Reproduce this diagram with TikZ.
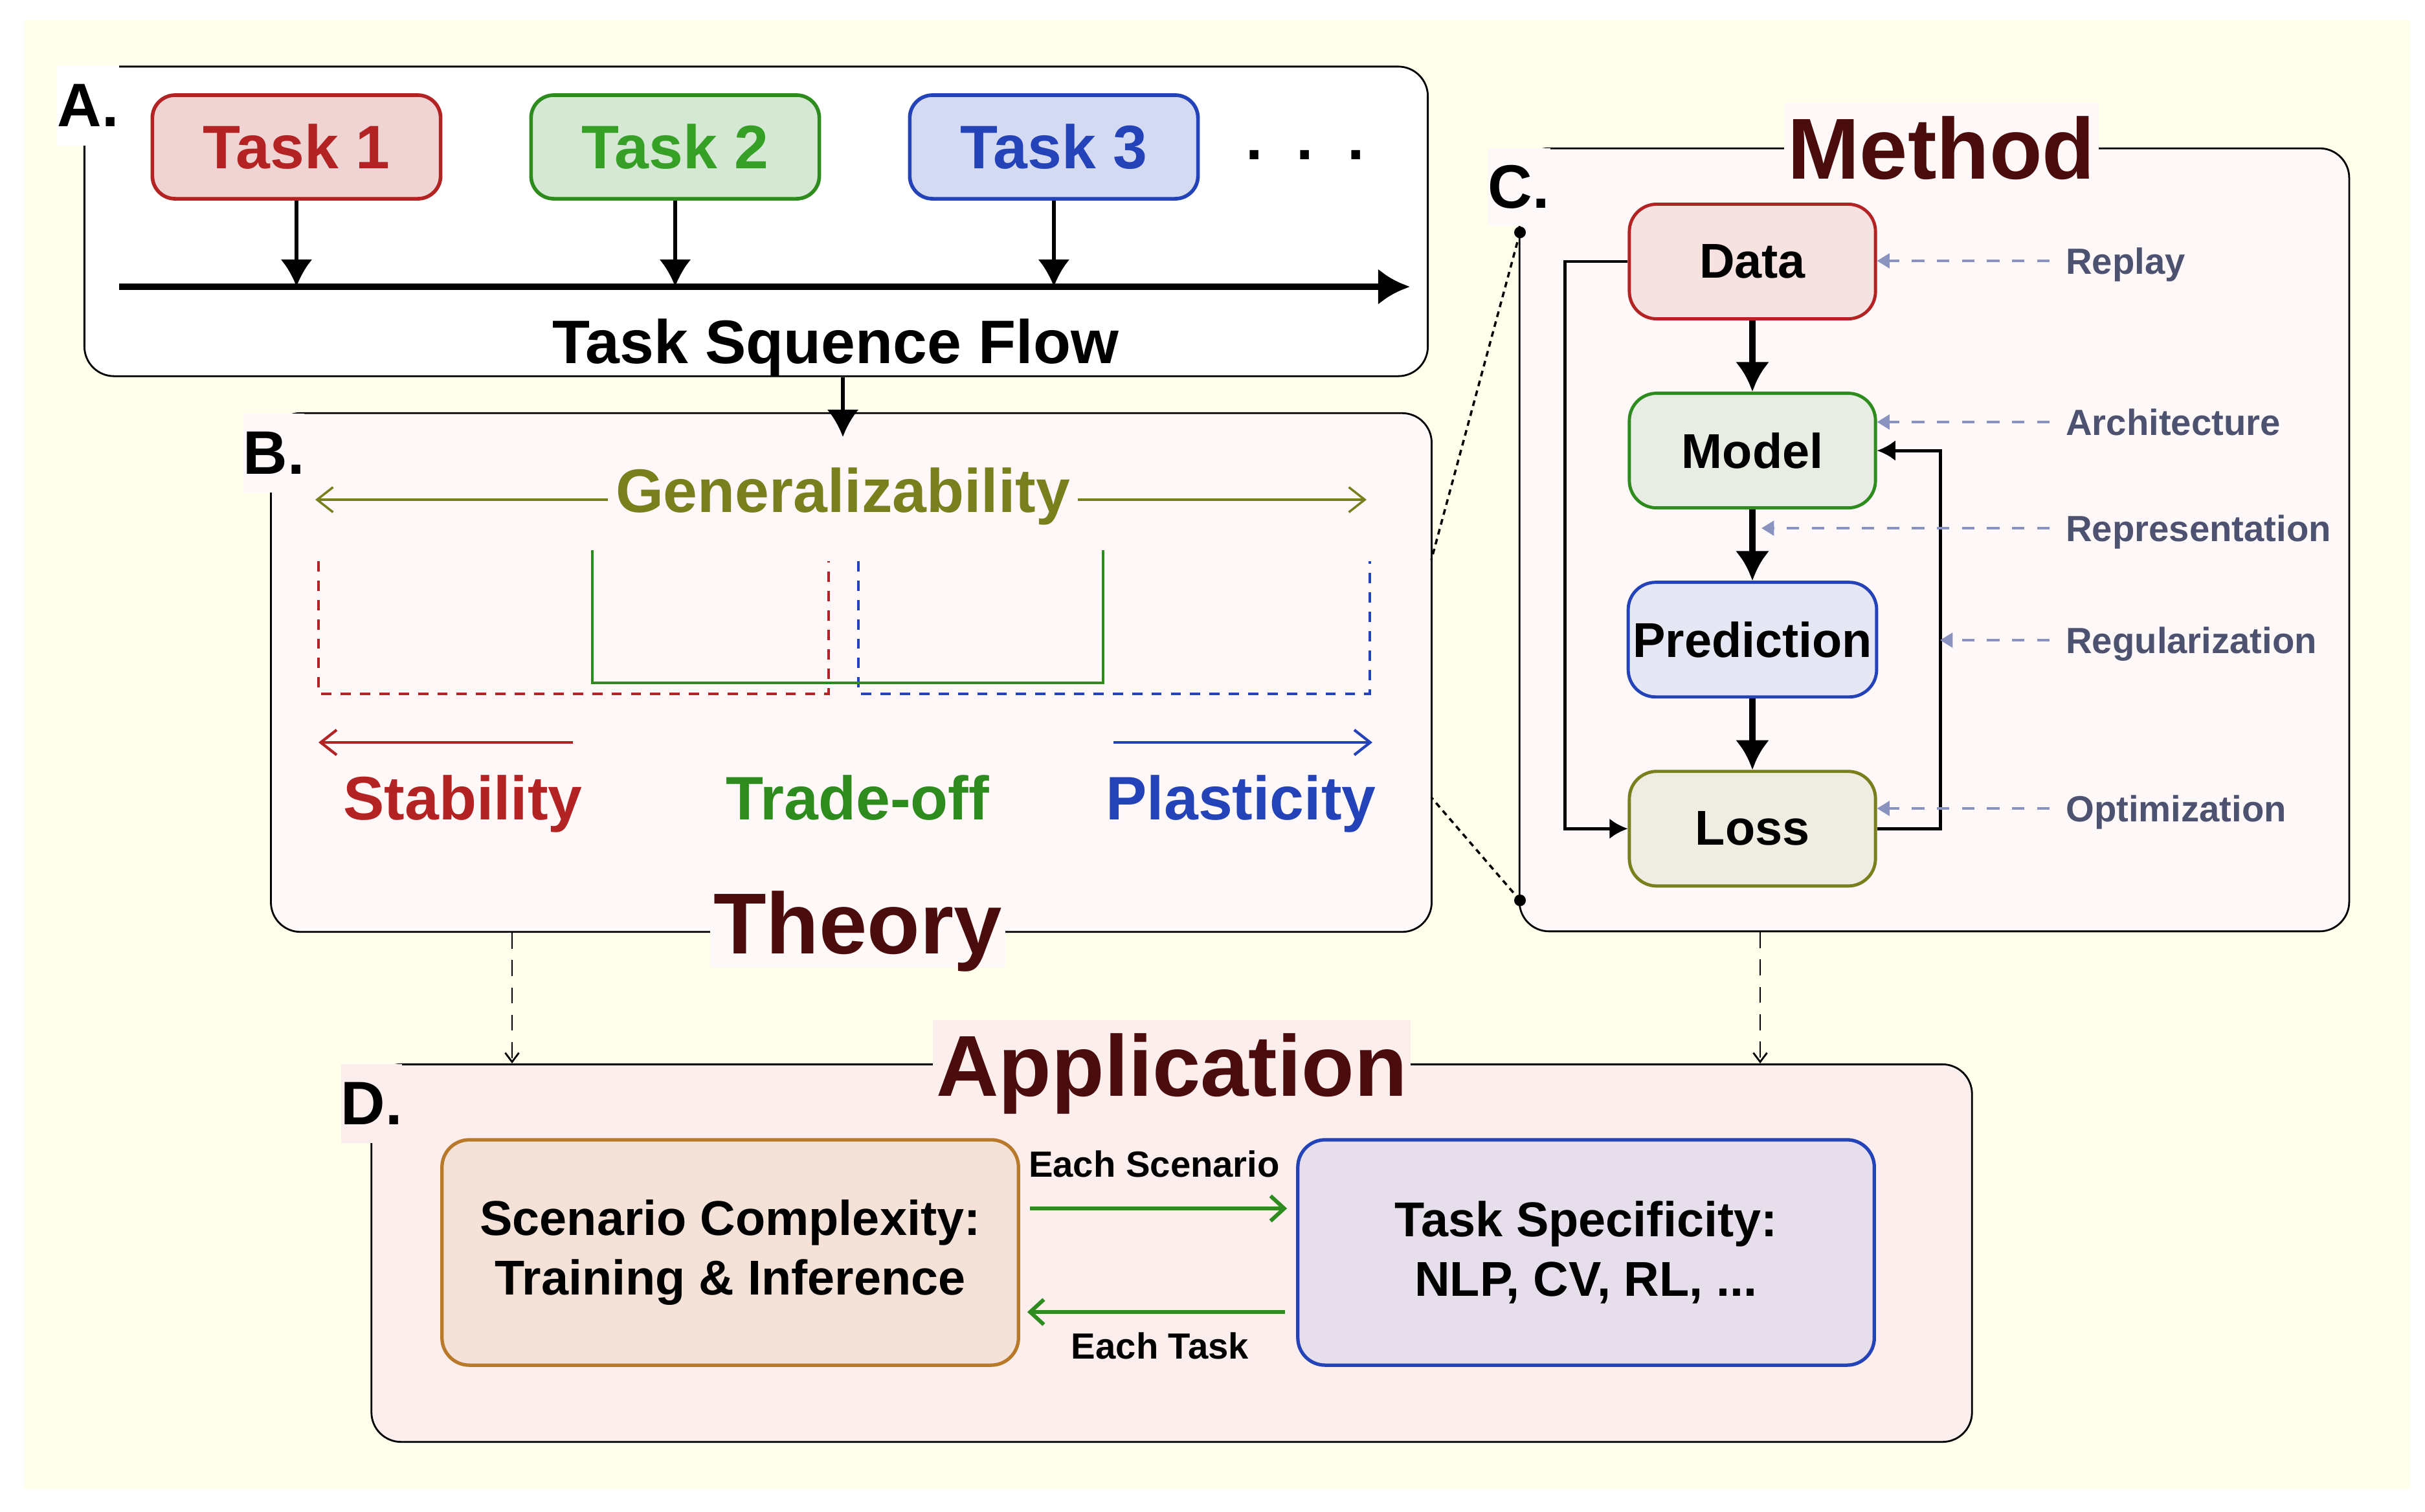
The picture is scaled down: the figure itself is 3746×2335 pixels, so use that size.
\documentclass[tikz,border=0pt]{standalone}
\usepackage{fontspec}
\setmainfont{Liberation Sans}
\usepackage{tikz}
\usetikzlibrary{arrows.meta,positioning,calc}
\definecolor{paper}{HTML}{FFFFEB}
\definecolor{panelpink}{HTML}{FFF8F8}
\definecolor{apppink}{HTML}{FDEEEE}
\definecolor{titlered}{HTML}{4A0C0C}
\definecolor{taskred}{HTML}{B42323}
\definecolor{taskgreen}{HTML}{2E8B1E}
\definecolor{lightgreen}{HTML}{36A026}
\definecolor{taskblue}{HTML}{2443B8}
\definecolor{genolive}{HTML}{7A7F1E}
\definecolor{slateline}{HTML}{8A92C0}
\definecolor{slatetext}{HTML}{4D5270}
\definecolor{brownline}{HTML}{B87A2A}
\definecolor{redfill}{HTML}{F0D4D4}
\definecolor{greenfill}{HTML}{D5E8D4}
\definecolor{bluefill}{HTML}{D4DAF2}
\definecolor{datafill}{HTML}{F6E3E1}
\definecolor{modelfill}{HTML}{E8EDE3}
\definecolor{predfill}{HTML}{E6E7F5}
\definecolor{lossfill}{HTML}{EFEDE1}
\definecolor{scenfill}{HTML}{F4E2D9}
\definecolor{specfill}{HTML}{E7DEEB}

\begin{document}
\begin{tikzpicture}[
    x=0.01cm, y=-0.01cm,
    node distance=1.1cm,
    panel/.style={rectangle, draw=black, line width=0.8pt, rounded corners=13pt, inner sep=0pt},
    tag/.style={inner sep=0pt, font=\fontsize{27}{32}\selectfont\bfseries},
    heading/.style={inner xsep=1.5pt, inner ysep=6pt, text depth=0pt, text=titlered, font=\fontsize{38}{44}\selectfont\bfseries},
    taskbox/.style={rectangle, rounded corners=10pt, line width=1.6pt, minimum width=4.45cm, minimum height=1.6cm, font=\fontsize{27}{32}\selectfont\bfseries},
    stagebox/.style={rectangle, rounded corners=12pt, line width=1.4pt, inner xsep=2pt, minimum width=3.8cm, minimum height=1.77cm, font=\fontsize{21.5}{26}\selectfont\bfseries},
    appbox/.style={rectangle, rounded corners=12pt, line width=1.5pt, minimum width=8.9cm, minimum height=3.48cm, align=center, font=\fontsize{21.5}{26}\selectfont\bfseries},
    bigtext/.style={font=\fontsize{27}{32}\selectfont\bfseries},
    smalltext/.style={font=\fontsize{16}{19}\selectfont\bfseries},
    drop/.style={-{Latex[length=12pt,width=14pt]}, line width=1.6pt},
    stagearrow/.style={-{Latex[length=13pt,width=15pt]}, line width=2.7pt},
    loopline/.style={-{Latex[length=8pt,width=9pt]}, line width=1.4pt},
    hint/.style={-{Triangle[length=5.5pt,width=6.5pt]}, draw=slateline, line width=1pt, dash pattern=on 5.5pt off 5.5pt},
    hintlabel/.style={anchor=west, inner sep=7pt, text depth=0pt, text=slatetext, font=\fontsize{16}{19}\selectfont\bfseries},
    sidearrow/.style={-{Straight Barb[length=7pt,width=11pt]}, line width=1.2pt},
    flowarrow/.style={-{Straight Barb[length=6pt,width=11pt]}, line width=1.7pt, draw=taskgreen},
    link/.style={-{Straight Barb[length=4pt,width=6pt]}, line width=0.8pt, dash pattern=on 7pt off 5pt},
    zoomline/.style={line width=1pt, dash pattern=on 2.5pt off 2pt},
    dot/.style={circle, fill=black, inner sep=0pt, minimum size=0.18cm},
    region/.style={line width=1.2pt, dash pattern=on 4.5pt off 4pt}
  ]
    \useasboundingbox (0,0) rectangle (3746,2335);
    \fill[white] (0,0) rectangle (3746,2335);
    \fill[paper] (38,31) rectangle (3723,2300);

    % panels
    \node[panel, fill=white, minimum width=20.74cm, minimum height=4.78cm] (panelA) at (1168,342) {};
    \node[panel, fill=panelpink, minimum width=17.92cm, minimum height=8.01cm] (panelB) at (1315,1039) {};
    \node[panel, fill=panelpink, minimum width=12.81cm, minimum height=12.09cm] (panelC) at (2988,834) {};
    \node[panel, fill=apppink, minimum width=24.71cm, minimum height=5.83cm] (panelD) at (1810,1936) {};

    % A. task sequence
    \node[tag, fill=white, minimum width=0.96cm, minimum height=1.23cm] (labA) at (136,163) {A.};
    \node[taskbox, draw=taskred, fill=redfill, text=taskred] (task1) at (458,227) {Task 1};
    \node[taskbox, draw=taskgreen, fill=greenfill, text=lightgreen, right=1.34cm of task1] (task2) {Task 2};
    \node[taskbox, draw=taskblue, fill=bluefill, text=taskblue, right=1.34cm of task2] (task3) {Task 3};
    \node[bigtext, anchor=base] (more) at (2016,246) {.\hspace{14.8pt}.\hspace{14.8pt}.};
    \coordinate (axisL) at (184,443);
    \coordinate (axisR) at (2178,443);
    \draw[-{Latex[length=14pt,width=16pt]}, line width=2.8pt] (axisL) -- (axisR);
    \foreach \t in {task1,task2,task3}
      \draw[drop] (\t.south) -- (\t.south |- axisL);
    \node[bigtext, anchor=base] (flow) at (1291,561) {Task Squence Flow};
    \coordinate (abtip) at (1302,675);
    \draw[drop] (panelA.south -| abtip) -- (abtip);

    % B. theory
    \node[tag, fill=panelpink, minimum width=0.92cm, minimum height=1.22cm] (labB) at (423,700) {B.};
    \node[bigtext, text=genolive, anchor=base] (gen) at (1302,791) {Generalizability};
    \coordinate (genL) at (487,772);
    \coordinate (genR) at (2111,772);
    \draw[sidearrow, draw=genolive, line width=1pt] (gen.west |- genL) -- (genL);
    \draw[sidearrow, draw=genolive, line width=1pt] (gen.east |- genR) -- (genR);
    \draw[region, taskred] (492,867) -- (492,1072) -- (1280,1072) -- (1280,867);
    \draw[region, taskblue] (1326,867) -- (1326,1072) -- (2116,1072) -- (2116,867);
    \draw[taskgreen, line width=1.2pt] (915,850) -- (915,1055) -- (1704,1055) -- (1704,850);
    \draw[sidearrow, draw=taskred] (885,1147) -- (492,1147);
    \draw[sidearrow, draw=taskblue] (1720,1147) -- (2120,1147);
    \node[bigtext, text=taskred, anchor=base] (stab) at (715,1266) {Stability};
    \node[bigtext, text=taskgreen, anchor=base] (trade) at (1325,1266) {Trade-off};
    \node[bigtext, text=taskblue, anchor=base] (plast) at (1917,1266) {Plasticity};
    \node[heading, fill=panelpink] (theory) at (1325,1425) {Theory};

    % C. method
    \node[heading, fill=panelpink] (method) at (2999,228) {Method};
    \node[tag, fill=panelpink, minimum width=0.97cm, minimum height=1.2cm] (labC) at (2346,289) {C.};
    \node[stagebox, draw=taskred, fill=datafill] (data) at (2707,404) {Data};
    \node[stagebox, draw=taskgreen, fill=modelfill, below=of data] (model) {Model};
    \node[stagebox, draw=taskblue, fill=predfill, below=of model] (pred) {Prediction};
    \node[stagebox, draw=genolive, fill=lossfill, below=of pred] (loss) {Loss};
    \draw[stagearrow] (data) -- (model);
    \draw[stagearrow] (model) -- (pred);
    \draw[stagearrow] (pred) -- (loss);
    \coordinate (lloop) at (2417,0);
    \coordinate (rloop) at (2997,0);
    \draw[loopline] (data.west) -- (data.west -| lloop) |- (loss.west);
    \draw[loopline] (loss.east) -| (rloop |- model.east) -- (model.east);
    \node[hintlabel] (replay) at (3166,403) {Replay};
    \node[hintlabel] (arch) at (3166,652) {Architecture};
    \node[hintlabel] (rep) at (3166,816) {Representation};
    \node[hintlabel] (reg) at (3166,989) {Regularization};
    \node[hintlabel] (opt) at (3166,1249) {Optimization};
    \draw[hint] (replay.west) -- (replay.west -| data.east);
    \draw[hint] (arch.west) -- (arch.west -| model.east);
    \draw[hint] (rep.west) -- ([xshift=4pt]rep.west -| model.south);
    \draw[hint] (reg.west) -- (reg.west -| rloop);
    \draw[hint] (opt.west) -- (opt.west -| loss.east);

    % zoom from theory to method
    \node[dot] (ctop) at (2348,359) {};
    \node[dot] (cbot) at (2348,1391) {};
    \coordinate (bzt) at (2211,865);
    \coordinate (bzb) at (2211,1232);
    \draw[zoomline] (ctop.center) -- (bzt);
    \draw[zoomline] (cbot.center) -- (bzb);

    % D. application
    \coordinate (bd) at (791,0);
    \coordinate (cd) at (2719,0);
    \draw[link] (panelB.south -| bd) -- (bd |- panelD.north);
    \draw[link] (panelC.south -| cd) -- (cd |- panelD.north);
    \node[heading, fill=apppink] (app) at (1810,1645) {Application};
    \node[tag, fill=apppink, minimum width=0.93cm, minimum height=1.22cm] (labD) at (574,1705) {D.};
    \node[appbox, draw=brownline, fill=scenfill] (scen) at (1128,1935) {Scenario Complexity:\\Training \& Inference};
    \node[appbox, draw=taskblue, fill=specfill, right=4.26cm of scen] (spec) {Task Specificity:\\NLP, CV, RL, ...};
    \draw[flowarrow] ($(scen.east)+(15,-68)$) -- ($(spec.west)+(-14,-68)$);
    \draw[flowarrow] ($(spec.west)+(-17,92)$) -- ($(scen.east)+(11,92)$);
    \node[smalltext, anchor=base] (eachscen) at (1783,1818) {Each Scenario};
    \node[smalltext, anchor=base] (eachtask) at (1792,2099) {Each Task};
  \end{tikzpicture}
\end{document}
